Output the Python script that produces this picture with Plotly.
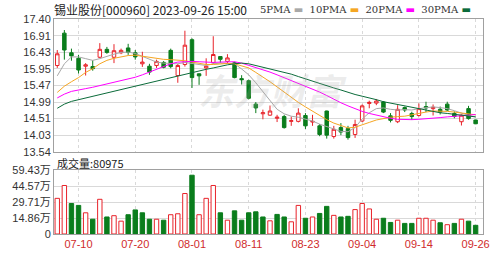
import plotly.graph_objects as go

dates = ["07-05","07-06","07-07","07-10","07-11","07-12","07-13","07-14","07-17","07-18",
         "07-19","07-20","07-21","07-24","07-25","07-26","07-27","07-28","07-31",
         "08-01","08-02","08-03","08-04","08-07","08-08","08-09","08-10","08-11","08-14",
         "08-15","08-16","08-17","08-18","08-21","08-22","08-23","08-24","08-25","08-28",
         "08-29","08-30","08-31",
         "09-01","09-04","09-05","09-06","09-07","09-08","09-11","09-12","09-13","09-14",
         "09-15","09-18","09-19","09-20","09-21","09-22","09-25","09-26"]

open_ = [16.05,16.99,16.42,16.26,16.03,16.02,16.29,16.52,16.29,16.42,
         16.56,16.42,16.10,16.03,16.05,16.14,16.49,15.76,16.08,16.80,
         15.81,15.98,16.13,16.31,16.17,16.13,15.67,15.61,14.93,14.65,
         14.61,14.52,14.57,14.43,14.43,14.60,14.41,14.30,14.73,13.99,
         14.25,14.22,14.05,14.44,14.95,14.96,14.99,14.59,14.42,14.83,
         14.66,14.60,14.86,14.80,14.78,14.93,14.66,14.42,14.80,14.47]
high = [16.50,17.08,16.54,16.36,16.12,16.20,16.70,16.59,16.67,16.54,
        16.68,16.50,16.45,16.10,16.22,16.18,16.54,16.10,17.06,16.84,
        15.82,16.26,16.90,16.31,16.38,16.16,15.77,15.64,14.99,14.77,
        14.89,14.62,14.62,14.57,14.81,14.67,14.62,14.35,14.74,14.30,
        14.38,14.30,14.48,14.92,15.03,15.08,15.02,14.67,14.90,14.86,
        14.71,14.95,15.00,14.92,14.86,15.00,14.72,14.63,14.88,14.48]
low = [15.98,16.22,16.19,15.82,15.76,15.90,16.26,16.39,16.12,16.38,
       16.36,16.22,16.01,15.78,15.98,15.97,15.97,15.55,16.02,15.40,
       15.49,15.75,16.10,16.13,16.10,15.68,15.50,15.07,14.67,14.49,
       14.59,14.41,14.22,14.30,14.40,14.21,14.30,14.00,13.93,13.93,
       14.03,13.90,13.95,14.41,14.81,14.90,14.67,14.40,14.38,14.70,
       14.47,14.57,14.70,14.60,14.63,14.73,14.52,14.31,14.48,14.35]
close = [16.39,16.50,16.33,15.92,16.07,15.96,16.52,16.43,16.48,16.49,
         16.43,16.30,16.15,15.86,16.17,16.00,16.02,16.05,16.64,15.70,
         15.75,16.03,16.37,16.23,16.27,15.70,15.64,15.10,14.82,14.68,
         14.73,14.55,14.25,14.45,14.67,14.30,14.43,14.05,14.03,14.20,
         14.12,13.96,14.34,14.88,14.98,15.02,14.70,14.46,14.78,14.76,
         14.57,14.80,14.82,14.84,14.70,14.76,14.57,14.61,14.51,14.36]

ma5 = [15.75,16.10,16.30,16.30,16.25,16.20,16.25,16.32,16.38,16.43,
       16.44,16.40,16.32,16.22,16.15,16.12,16.10,16.10,16.14,16.10,
       16.08,16.05,16.10,16.12,16.10,16.10,15.95,15.78,15.55,15.30,
       15.02,14.78,14.65,14.58,14.55,14.50,14.44,14.35,14.28,14.20,
       14.14,14.13,14.25,14.50,14.68,14.80,14.82,14.78,14.76,14.77,
       14.76,14.80,14.83,14.85,14.83,14.80,14.74,14.66,14.60,14.56]
ma10 = [15.27,15.45,15.58,15.70,15.85,15.96,16.10,16.20,16.26,16.31,
        16.34,16.35,16.32,16.28,16.25,16.23,16.22,16.21,16.19,16.15,
        16.11,16.08,16.08,16.10,16.11,16.10,16.05,15.98,15.85,15.72,
        15.58,15.43,15.28,15.12,14.98,14.85,14.72,14.60,14.48,14.38,
        14.30,14.24,14.26,14.32,14.40,14.47,14.52,14.55,14.57,14.58,
        14.62,14.67,14.70,14.73,14.73,14.72,14.70,14.67,14.65,14.62]
ma20 = [15.11,15.22,15.30,15.35,15.38,15.42,15.47,15.51,15.55,15.60,
        15.65,15.71,15.78,15.86,15.95,16.03,16.10,16.15,16.17,16.17,
        16.16,16.14,16.14,16.15,16.16,16.16,16.12,16.06,16.00,15.93,
        15.86,15.78,15.70,15.62,15.54,15.45,15.37,15.28,15.18,15.07,
        14.97,14.88,14.79,14.72,14.66,14.61,14.56,14.52,14.49,14.48,
        14.48,14.49,14.50,14.52,14.54,14.56,14.57,14.59,14.61,14.63]
ma30 = [14.81,14.93,15.01,15.06,15.11,15.15,15.19,15.24,15.30,15.35,
        15.41,15.46,15.51,15.56,15.61,15.65,15.70,15.76,15.81,15.85,
        15.89,15.94,15.98,16.03,16.07,16.10,16.12,16.10,16.05,16.01,
        15.96,15.91,15.86,15.80,15.73,15.66,15.60,15.53,15.46,15.40,
        15.34,15.27,15.21,15.16,15.12,15.06,15.00,14.96,14.92,14.88,
        14.84,14.79,14.75,14.71,14.68,14.66,14.64,14.62,14.59,14.56]

volume_wan = [33.3,45.3,28.5,26.7,19.8,13.8,32.4,15.9,17.1,12.0,
              18.0,22.5,19.8,13.8,13.8,12.9,18.0,18.9,37.8,54.9,
              18.0,33.3,45.3,19.8,12.9,21.6,12.9,19.8,20.7,15.9,
              12.3,18.3,15.9,11.4,26.7,14.7,15.9,19.2,25.8,17.4,
              15.9,16.5,22.8,28.5,23.4,13.8,14.7,10.8,12.9,9.9,
              9.9,14.7,14.7,12.9,10.5,8.7,9.9,13.8,12.0,8.1]

x_ticks = ["07-10","07-20","08-01","08-11","08-23","09-04","09-14","09-26"]
price_ticks = [13.54,14.03,14.51,14.99,15.47,15.95,16.43,16.91,17.40]
price_ticktext = ["13.54","14.03","14.51","14.99","15.47","15.95","16.43","16.91","17.40"]
vol_ticks = [0,14.86,29.71,44.57,59.43]
vol_ticktext = ["0","14.86万","29.71万","44.57万","59.43万"]
title_text = "锡业股份[000960] 2023-09-26 15:00"
vol_label = "成交量:80975"

RED = "#e8232a"
GREEN = "#0a7d1c"
C5, C10, C20, C30 = "#a8a8a8", "#f5a623", "#ff00ff", "#0b6b3a"

# volume colour: compare close with previous close
vol_up = [close[0] >= open_[0]] + [close[i] >= close[i-1] for i in range(1, len(close))]
vol_fill = ["white" if u else GREEN for u in vol_up]
vol_line = [RED if u else GREEN for u in vol_up]

fig = go.Figure()

fig.add_trace(go.Candlestick(
    x=dates, open=open_, high=high, low=low, close=close,
    increasing=dict(line=dict(color=RED, width=1), fillcolor="white"),
    decreasing=dict(line=dict(color=GREEN, width=1), fillcolor=GREEN),
    whiskerwidth=0, showlegend=False, xaxis="x", yaxis="y"))

for vals, col in [(ma5, C5), (ma10, C10), (ma20, C20), (ma30, C30)]:
    fig.add_trace(go.Scatter(x=dates, y=vals, mode="lines",
                             line=dict(color=col, width=1),
                             showlegend=False, xaxis="x", yaxis="y"))

fig.add_trace(go.Bar(x=dates, y=volume_wan, width=0.62,
                     marker=dict(color=vol_fill, line=dict(color=vol_line, width=1)),
                     showlegend=False, xaxis="x2", yaxis="y2"))

L, R, T, B = 54, 20, 19, 20
W, H = 503, 262
pw, ph = W - L - R, H - T - B

def py(ypix):
    return (H - B - ypix) / ph

def px(xpix):
    return (xpix - L) / pw

xr = [-0.46, 60.04]
font_main = "Liberation Sans, Arial, Noto Sans CJK SC, sans-serif"
axis_common = dict(showgrid=True, gridcolor="#d9d9d9", gridwidth=1,
                   showline=True, linecolor="#a0a0a0", linewidth=1, mirror=True,
                   zeroline=False, ticks="")

fig.update_layout(
    width=W, height=H, margin=dict(l=L, r=R, t=T, b=B),
    paper_bgcolor="white", plot_bgcolor="white",
    font=dict(family=font_main, size=11, color="#333333"),
    xaxis=dict(type="category", range=xr, domain=[0, 1], anchor="y",
               tickvals=x_ticks, showticklabels=False, rangeslider=dict(visible=False),
               griddash="dot", **axis_common),
    yaxis=dict(domain=[py(157), 1], range=[13.54, 17.40], tickvals=price_ticks,
               ticktext=price_ticktext, anchor="x", **axis_common),
    xaxis2=dict(type="category", range=xr, domain=[0, 1], anchor="y2", matches="x",
                tickvals=x_ticks, ticktext=x_ticks, griddash="dot",
                tickfont=dict(color="#d02b2b", size=11), **axis_common),
    yaxis2=dict(domain=[0, py(176)], range=[0, 59.43], tickvals=vol_ticks,
                ticktext=vol_ticktext, anchor="x2", **axis_common),
    bargap=0.3,
)

legend_html = ("5PMA <span style='color:%s'>▬</span>  10PMA <span style='color:%s'>▬</span>  "
               "20PMA <span style='color:%s'>▬</span>  30PMA <span style='color:%s'>▬</span>"
               % (C5, C10, C20, C30))

fig.add_annotation(text=title_text, xref="paper", yref="paper", x=px(52), y=py(9),
                   xanchor="left", yanchor="middle", showarrow=False,
                   font=dict(family="Noto Sans CJK SC, sans-serif", size=12, color="#222222"))
fig.add_annotation(text=legend_html, xref="paper", yref="paper", x=px(473), y=py(9),
                   xanchor="right", yanchor="middle", showarrow=False,
                   font=dict(family="DejaVu Serif, serif", size=10, color="#333333"))
fig.add_annotation(text=vol_label, xref="paper", yref="paper", x=px(55), y=py(168),
                   xanchor="left", yanchor="middle", showarrow=False,
                   font=dict(family="Noto Sans CJK SC, sans-serif", size=11, color="#222222"))
fig.add_annotation(text="<b><i>东方财富</i></b>", xref="paper", yref="paper", x=px(272), y=py(92),
                   xanchor="center", yanchor="middle", showarrow=False,
                   font=dict(family="Noto Sans CJK SC, sans-serif", size=36,
                             color="rgba(170,170,170,0.22)"))

fig.write_html("out.html")
